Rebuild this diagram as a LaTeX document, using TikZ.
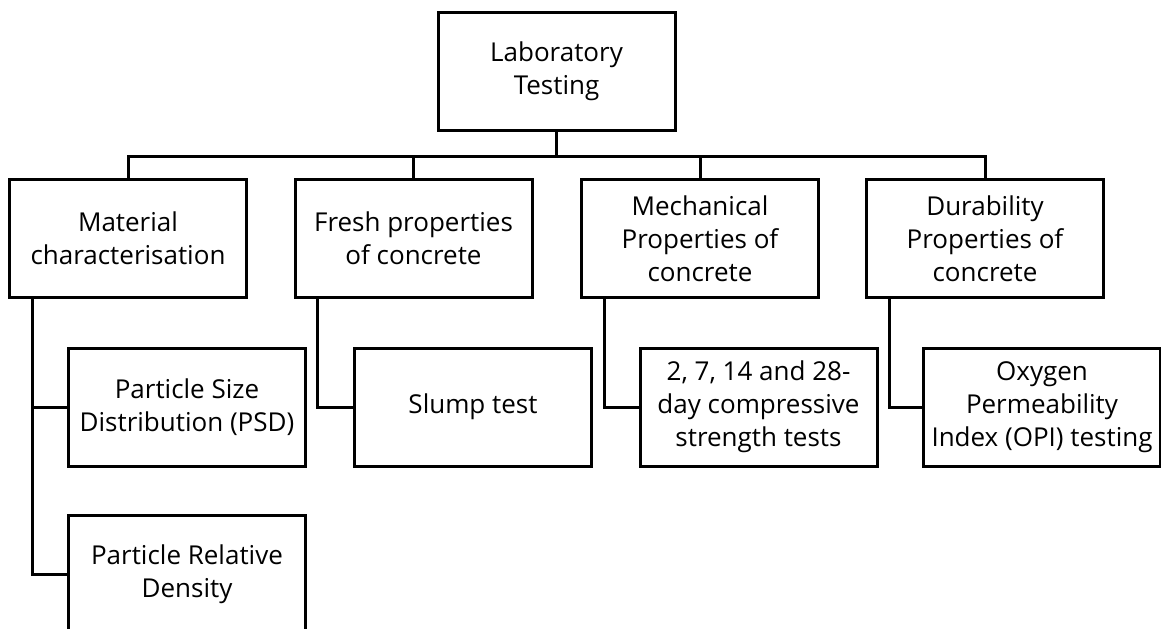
\documentclass[tikz,border=0pt]{standalone}
\usepackage{fontspec}
\setmainfont{Open Sans}
\usetikzlibrary{calc}

\tikzset{
  testbox/.style={draw, line width=1.5pt, align=center, minimum width=118.5pt,
    minimum height=59pt, inner sep=0.5pt, font=\fontsize{13}{16.6}\selectfont},
  link/.style={line width=1.5pt}
}

\begin{document}
\begin{tikzpicture}[x=0.5pt, y=-0.5pt]

    % page frame (1161 x 628 px)
    \useasboundingbox (0,0) rectangle (1161,628);
    \clip (0,0) rectangle (1161,628);

    % top level
    \node[testbox] (lab) at (556.5,71.5) {Laboratory\\Testing};

    % main groups
    \node[testbox] (mat)   at (128,238.5)  {Material\\characterisation};
    \node[testbox] (fresh) at (413.5,238.5) {Fresh properties\\of concrete};
    \node[testbox] (mech)  at (700,238.5)  {Mechanical\\Properties of\\concrete};
    \node[testbox] (dur)   at (985,238.5)  {Durability\\Properties of\\concrete};

    % tests
    \node[testbox] (psd)  at (187,407)    {Particle Size\\Distribution (PSD)};
    \node[testbox] (prd)  at (187,574)    {Particle Relative\\Density};
    \node[testbox] (slump) at (473,407)   {Slump test};
    \node[testbox] (comp) at (758.5,407)  {2, 7, 14 and 28-\\day compressive\\strength tests};
    \node[testbox] (opi)  at (1042,407)   {Oxygen\\Permeability\\Index (OPI) testing};

    % bus under the top box
    \draw[link] (lab.south) -- ++(0,24) coordinate (bus);
    \draw[link] (mat.north) |- (bus) -| (dur.north);
    \draw[link] (fresh.north) -- (fresh.north |- bus);
    \draw[link] (mech.north) -- (mech.north |- bus);

    % side links to the tests
    \draw[link] ([xshift=12pt]mat.south west) |- (psd.west);
    \draw[link] ([xshift=12pt]mat.south west) |- (prd.west);
    \draw[link] ([xshift=12pt]fresh.south west) |- (slump.west);
    \draw[link] ([xshift=12pt]mech.south west) |- (comp.west);
    \draw[link] ([xshift=12pt]dur.south west) |- (opi.west);

\end{tikzpicture}
\end{document}
